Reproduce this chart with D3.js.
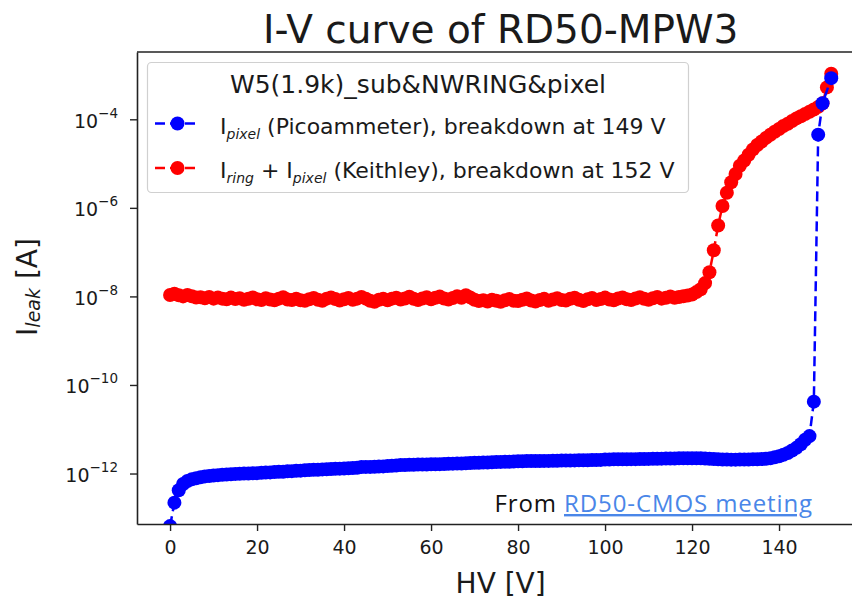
<!DOCTYPE html>
<html>
<head>
<meta charset="utf-8">
<script src="https://cdn.jsdelivr.net/npm/d3@7"></script>
<style>
  body { margin: 0; background: #fff; }
  text { font-family: "DejaVu Sans", sans-serif; fill: #1a1a1a; }
</style>
</head>
<body>
<div id="chart"></div>
<script>
// bias voltage [V]
const voltage = [
  0,1,2,3,4,5,6,7,8,9,10,11,12,13,14,15,16,17,18,19,
  20,21,22,23,24,25,26,27,28,29,30,31,32,33,34,35,36,37,38,39,
  40,41,42,43,44,45,46,47,48,49,50,51,52,53,54,55,56,57,58,59,
  60,61,62,63,64,65,66,67,68,69,70,71,72,73,74,75,76,77,78,79,
  80,81,82,83,84,85,86,87,88,89,90,91,92,93,94,95,96,97,98,99,
  100,101,102,103,104,105,106,107,108,109,110,111,112,113,114,115,116,117,118,119,
  120,121,122,123,124,125,126,127,128,129,130,131,132,133,134,135,136,137,138,139,
  140,141,142,143,144,145,146,147,148,149,150,151,152
];

// pixel current, picoammeter [pA]
const iPixel_pA = [
  0.065,0.22,0.42,0.58,0.68,0.74,0.78,0.82,0.86,0.88,0.90,0.92,0.94,0.95,0.96,0.98,0.99,1.00,1.00,1.01,
  1.02,1.04,1.05,1.06,1.08,1.10,1.10,1.12,1.13,1.15,1.16,1.18,1.20,1.21,1.22,1.24,1.25,1.27,1.28,1.29,
  1.30,1.32,1.33,1.35,1.40,1.41,1.41,1.42,1.44,1.45,1.47,1.50,1.52,1.55,1.56,1.57,1.58,1.59,1.60,1.60,
  1.61,1.62,1.63,1.64,1.66,1.67,1.68,1.69,1.71,1.72,1.74,1.75,1.77,1.78,1.80,1.82,1.83,1.84,1.85,1.86,
  1.90,1.90,1.91,1.91,1.92,1.92,1.93,1.93,1.94,1.95,1.96,1.97,1.97,1.98,1.99,2.00,2.00,2.01,2.02,2.03,
  2.08,2.08,2.09,2.09,2.10,2.10,2.11,2.11,2.12,2.13,2.14,2.15,2.16,2.17,2.18,2.18,2.19,2.20,2.20,2.21,
  2.22,2.22,2.20,2.18,2.15,2.12,2.10,2.08,2.07,2.06,2.06,2.07,2.08,2.08,2.09,2.10,2.12,2.16,2.22,2.32,
  2.45,2.65,2.90,3.30,3.80,4.60,5.80,7.00,42,4.5e7,2.3e8,null,8.5e8
];

// ring + pixel current, Keithley [nA]
const iRingPixel_nA = [
  10.8,11.5,10.6,10,10.8,10.1,9.4,9.6,9.1,9.7,8.9,9.5,8.9,8.6,9.4,8.7,9.1,8.4,8.8,9.5,
  8.6,8.3,9.1,8.5,8.2,8.9,9.6,8.5,8.3,8.9,8.2,8,8.6,9.2,8.4,8,8.9,9.5,8.7,8.1,
  8.6,9.2,8.4,8.9,9.7,8.9,8,7.6,8.4,8.8,8.2,8.9,9.3,8.5,9,9.8,8.8,8.3,9,9.6,
  8.6,9.3,9.9,9,8.5,9.2,10.1,9.3,10.6,9.5,8.4,7.9,8.2,7.7,8.4,8,7.6,8.2,8.7,8,
  7.9,8.4,9,8.1,7.7,8.3,8.8,8,8.5,9.1,8.3,8.1,8.8,9.3,8.4,7.9,8.6,9.2,8.3,8.7,
  9.4,8.5,8.2,9,9.5,8.6,8.3,9,9.6,8.8,8.4,9.1,9.7,8.9,9.3,9.9,9.3,9.7,10.1,10.5,
  11,12.5,14.5,20,35,110,400,1100,2200,3800,5800,8900,11700,15800,20900,26300,31600,38000,44700,52500,
  60300,70800,79400,91200,104700,117500,131800,147900,166000,190500,229000,525000,1070000
];

const xTicks = [0, 20, 40, 60, 80, 100, 120, 140];
const yTickExps = [-12, -10, -8, -6, -4];

const pixelSeries = voltage.map((v, i) => ({v: v, i: iPixel_pA[i] == null ? null : iPixel_pA[i] * 1e-12}))
  .filter(d => d.i != null);
const ringSeries = voltage.map((v, i) => ({v: v, i: iRingPixel_nA[i] * 1e-9}));

const W = 852, H = 600;
const box = {left: 137, top: 52, right: 864.3, bottom: 524};

const svg = d3.select("#chart").append("svg")
  .attr("width", W).attr("height", H)
  .style("display", "block");

svg.append("rect").attr("width", W).attr("height", H).attr("fill", "#fff");

const x = d3.scaleLinear().domain([-7.6, 159.6]).range([box.left, box.right]);
const y = d3.scaleLog().domain([Math.pow(10, -13.14), Math.pow(10, -2.48)]).range([box.bottom, box.top]);

svg.append("defs").append("clipPath").attr("id", "plotclip")
  .append("rect")
  .attr("x", box.left).attr("y", box.top)
  .attr("width", box.right - box.left).attr("height", box.bottom - box.top);

// title
svg.append("text")
  .attr("x", (box.left + box.right) / 2).attr("y", 43)
  .attr("text-anchor", "middle")
  .style("font-size", "39px")
  .text("I-V curve of RD50-MPW3");

// data
const plot = svg.append("g").attr("clip-path", "url(#plotclip)");

function drawSeries(data, color) {
  const line = d3.line().x(d => x(d.v)).y(d => y(d.i));
  plot.append("path")
    .datum(data)
    .attr("d", line)
    .attr("fill", "none")
    .attr("stroke", color)
    .attr("stroke-width", 2.5)
    .attr("stroke-dasharray", "10,5");
  plot.append("g").selectAll("circle")
    .data(data)
    .join("circle")
      .attr("cx", d => x(d.v))
      .attr("cy", d => y(d.i))
      .attr("r", 7)
      .attr("fill", color);
}
drawSeries(ringSeries, "#ff0000");
drawSeries(pixelSeries, "#0000ff");

// axes
const xAxis = svg.append("g")
  .attr("transform", `translate(0,${box.bottom})`)
  .call(d3.axisBottom(x).tickValues(xTicks).tickSize(7).tickSizeOuter(0).tickPadding(10));
xAxis.select(".domain").attr("stroke", "#222").attr("stroke-width", 1.6);
xAxis.selectAll(".tick line").attr("stroke", "#222").attr("stroke-width", 1.4);
xAxis.selectAll(".tick text")
  .style("font-size", "19px")
  .style("font-family", "DejaVu Sans")
  .attr("fill", "#1a1a1a");

const yAxis = svg.append("g")
  .attr("transform", `translate(${box.left},0)`)
  .call(d3.axisLeft(y).tickValues(yTickExps.map(e => Math.pow(10, e)))
    .tickSize(7).tickSizeOuter(0).tickFormat(""));
yAxis.select(".domain").attr("stroke", "#222").attr("stroke-width", 1.6);
yAxis.selectAll(".tick line").attr("stroke", "#222").attr("stroke-width", 1.4);
yAxis.selectAll(".tick").each(function(d) {
  const e = Math.round(Math.log10(d));
  const t = d3.select(this).append("text")
    .attr("x", -19).attr("y", 8)
    .attr("text-anchor", "end")
    .attr("fill", "#1a1a1a")
    .style("font-size", "19px");
  t.append("tspan").text("10");
  t.append("tspan").attr("dy", -10).style("font-size", "13.5px").text("\u2212" + Math.abs(e));
});

// top and right spines
svg.append("line")
  .attr("x1", box.left).attr("x2", box.right)
  .attr("y1", box.top).attr("y2", box.top)
  .attr("stroke", "#222").attr("stroke-width", 1.6);
svg.append("line")
  .attr("x1", box.right).attr("x2", box.right)
  .attr("y1", box.top).attr("y2", box.bottom)
  .attr("stroke", "#222").attr("stroke-width", 1.6);

// axis labels
svg.append("text")
  .attr("x", (box.left + box.right) / 2).attr("y", 593)
  .attr("text-anchor", "middle")
  .style("font-size", "28px")
  .text("HV [V]");

const yl = svg.append("text")
  .attr("transform", "translate(37,287) rotate(-90)")
  .attr("text-anchor", "middle")
  .style("font-size", "28px");
yl.append("tspan").text("I");
yl.append("tspan").attr("dy", 3).style("font-size", "19px").style("font-style", "italic").text("leak");
yl.append("tspan").attr("dy", -3).text(" [A]");

// legend
const lg = svg.append("g");
lg.append("rect")
  .attr("x", 147.5).attr("y", 62.5)
  .attr("width", 541).attr("height", 130)
  .attr("rx", 4)
  .attr("fill", "#fff").attr("fill-opacity", 0.8)
  .attr("stroke", "#d0d0d0").attr("stroke-width", 1.2);
lg.append("text")
  .attr("x", 418).attr("y", 93)
  .attr("text-anchor", "middle")
  .style("font-size", "25px")
  .text("W5(1.9k)_sub&NWRING&pixel");

const entries = [
  {color: "#0000ff", y: 123.5, parts: [["I", 0], ["pixel", 1], [" (Picoammeter), breakdown at 149 V", 0]]},
  {color: "#ff0000", y: 168, parts: [["I", 0], ["ring", 1], [" + I", 0], ["pixel", 1], [" (Keithley), breakdown at 152 V", 0]]}
];
entries.forEach(en => {
  lg.append("line")
    .attr("x1", 155).attr("x2", 198)
    .attr("y1", en.y).attr("y2", en.y)
    .attr("stroke", en.color).attr("stroke-width", 2.5)
    .attr("stroke-dasharray", "10,5");
  lg.append("circle").attr("cx", 177.5).attr("cy", en.y).attr("r", 7).attr("fill", en.color);
  const t = lg.append("text")
    .attr("x", 220).attr("y", en.y + 10)
    .style("font-size", "22px");
  let sub = false;
  en.parts.forEach(([s, isSub]) => {
    const ts = t.append("tspan").text(s);
    if (isSub && !sub) ts.attr("dy", 5);
    if (!isSub && sub) ts.attr("dy", -5);
    if (isSub) ts.style("font-size", "14px").style("font-style", "italic");
    sub = !!isSub;
  });
});

// source note
const note = svg.append("text")
  .attr("x", 813).attr("y", 512)
  .attr("text-anchor", "end")
  .style("font-family", "'Open Sans', Lato, sans-serif")
  .style("font-size", "24px")
  .style("letter-spacing", "0.9px");
note.append("tspan").style("fill", "#111").text("From ");
note.append("tspan").style("fill", "#4a86e8")
  .style("text-decoration", "underline").text("RD50-CMOS meeting");
</script>
</body>
</html>
